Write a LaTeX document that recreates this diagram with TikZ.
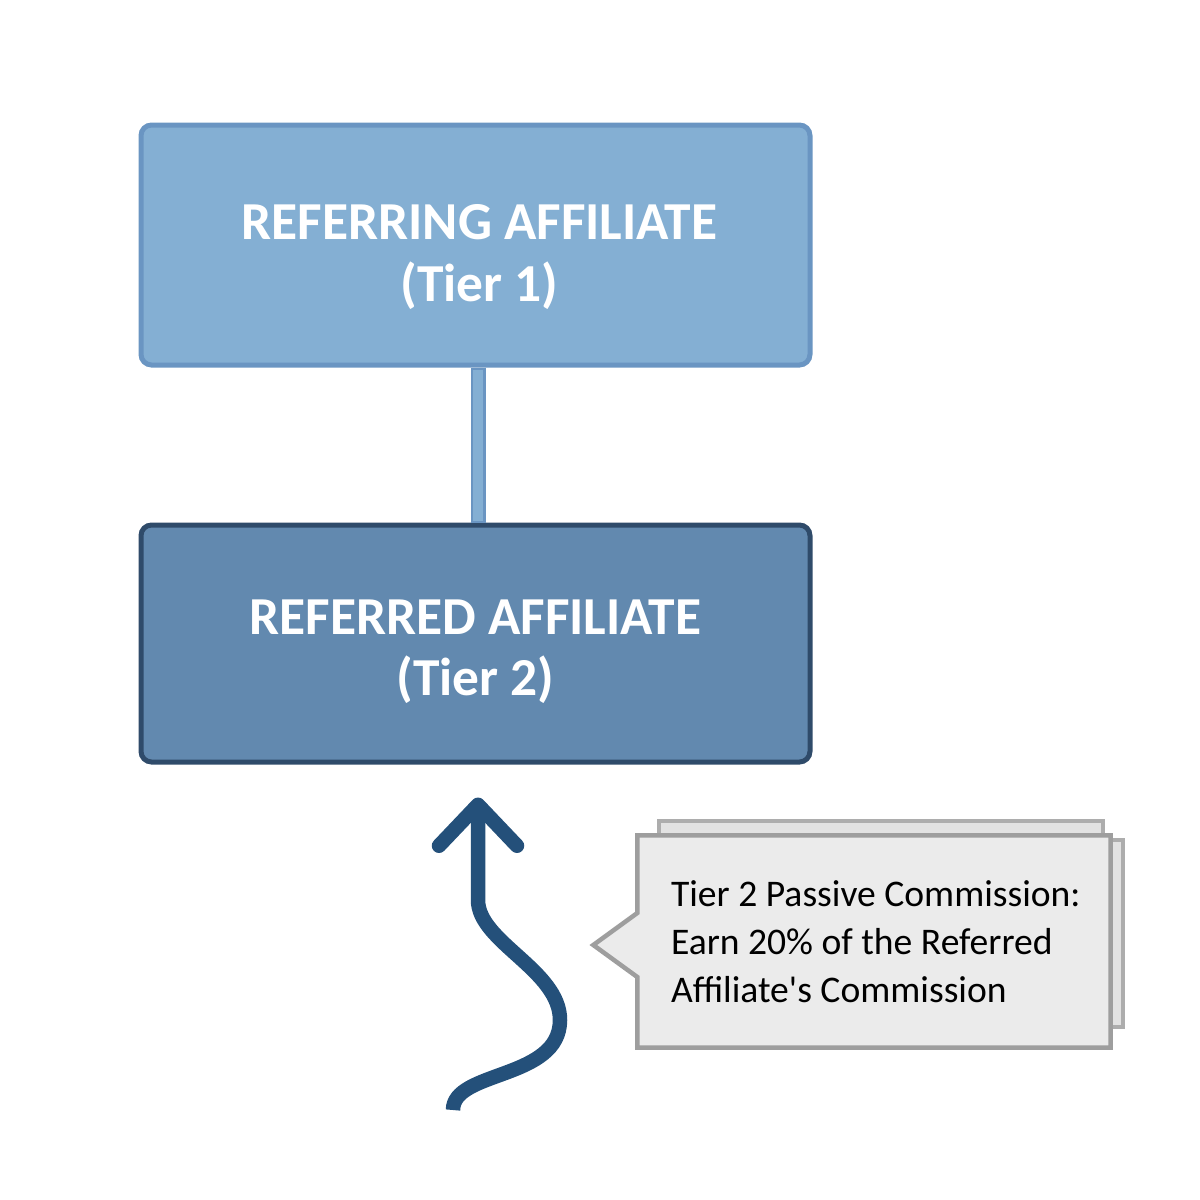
\documentclass[tikz,border=0pt]{standalone}
\usepackage{fontspec}
\setmainfont{Carlito}
\usetikzlibrary{positioning, arrows.meta, calc}

\definecolor{tieronefill}{HTML}{84AFD3}
\definecolor{tieroneline}{HTML}{6A95C2}
\definecolor{tiertwofill}{HTML}{6289AF}
\definecolor{tiertwoline}{HTML}{2F4B6A}
\definecolor{flowblue}{HTML}{24507A}
\definecolor{notefill}{HTML}{EBEBEB}
\definecolor{sheetfill}{HTML}{E2E2E2}
\definecolor{noteline}{HTML}{9E9E9E}

\begin{document}
\begin{tikzpicture}[
  tierbox/.style={rounded corners=3pt, line width=0.5mm, minimum width=6.69cm, inner sep=0pt},
  tiertxt/.style={align=center, text=white, inner sep=0pt,
    font=\bfseries\fontsize{15.2}{17.4}\selectfont},
  link/.style={line width=0.15cm, draw=tieroneline},
  linkin/.style={line width=0.1cm, draw=tieronefill},
  flow/.style={-{Straight Barb[length=4.1mm, width=7.8mm, round]},
    line width=1.45mm, draw=flowblue},
  sheet/.style={fill=sheetfill, draw=noteline!85, line width=0.4mm},
  bubble/.style={fill=notefill, draw=noteline, line width=0.45mm},
  notetxt/.style={font=\fontsize{10.7}{13.7}\selectfont, align=left,
    inner sep=0pt, anchor=west}
]
\useasboundingbox (0,0) rectangle (12,-12);

% ================= TIERS =================
\node[tierbox, fill=tieronefill, draw=tieroneline, minimum height=2.40cm]
  (ref) at (4.755,-2.45) {};
\node[tiertxt] (reftxt) at ($(ref.center)+(0.04,-0.12)$) {REFERRING AFFILIATE\\(Tier 1)};
\node[tierbox, fill=tiertwofill, draw=tiertwoline, minimum height=2.37cm,
  below=1.55cm of ref] (rfd) {};
\node[tiertxt] (rfdtxt) at ($(rfd.center)+(0,-0.08)$) {REFERRED AFFILIATE\\(Tier 2)};

% link between the tiers
\draw[link] ($(ref.south)+(0.025,0)$) -- ($(rfd.north)+(0.025,0)$);
\draw[linkin] ($(ref.south)+(0.025,-0.02)$) -- ($(rfd.north)+(0.025,0.02)$);

% ================= FLOW ARROW =================
\coordinate (tail) at (4.53,-11.10);
\coordinate (bend) at (5.60,-10.20);
\coordinate (tip) at ($(rfd.south)+(0.025,-0.33)$);
\draw[flow] (tail) .. controls +(0,0.4) and +(0,-0.6) .. (bend)
  .. controls +(0,0.5) and +(0,-0.42) .. (4.78,-9.00) -- (tip);

% ================= CALLOUT =================
\node[minimum width=4.72cm, minimum height=2.11cm, inner sep=0pt]
  (note) at (8.74,-9.415) {};
\draw[sheet] ($(note.north west)+(0.22,0.14)$) rectangle ($(note.south east)+(-0.08,0.4)$);
\draw[sheet] ($(note.north west)+(0.4,-0.05)$) rectangle ($(note.south east)+(0.12,0.21)$);
\draw[bubble] (note.north west) -- (note.north east) -- (note.south east)
  -- (note.south west) -- ($(note.west)+(0,-0.355)$) -- ($(note.west)+(-0.44,-0.035)$)
  -- ($(note.west)+(0,0.285)$) -- cycle;
\node[notetxt] (notetext) at ($(note.west)+(0.33,0)$)
  {Tier 2 Passive Commission:\\Earn 20\% of the Referred\\Affiliate\textquotesingle s Commission};
\end{tikzpicture}
\end{document}
